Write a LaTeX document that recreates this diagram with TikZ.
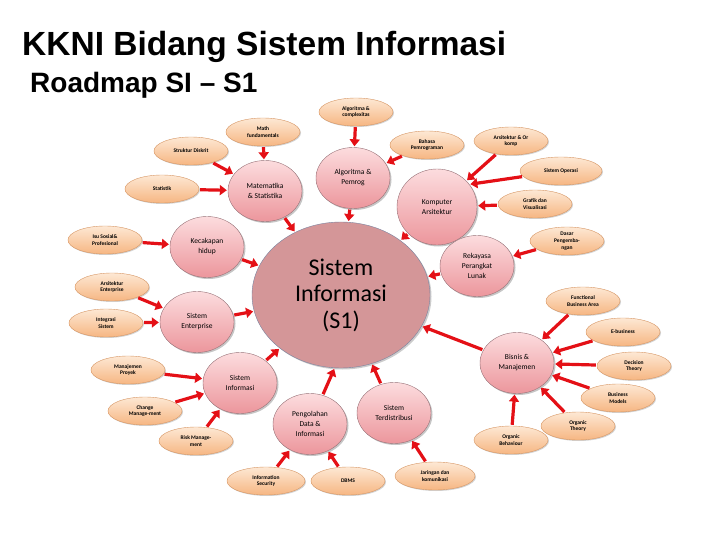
\documentclass[tikz,border=0pt]{standalone}
\usepackage{fontspec}
\setmainfont{Carlito}
\newfontfamily\headfont{Liberation Sans}
\usetikzlibrary{arrows.meta,shapes.geometric,shadows}
\definecolor{peachtop}{RGB}{253,232,212}
\definecolor{peachbot}{RGB}{246,182,130}
\definecolor{peachline}{RGB}{214,150,100}
\definecolor{pinktop}{RGB}{252,220,222}
\definecolor{pinkbot}{RGB}{236,150,156}
\definecolor{pinkline}{RGB}{150,112,118}
\definecolor{corefill}{RGB}{212,150,152}
\definecolor{coreline}{RGB}{122,132,160}
\definecolor{arrred}{RGB}{228,16,22}

\begin{document}
\begin{tikzpicture}[x=1pt, y=-1pt,
  topic/.style={ellipse, draw=peachline, top color=peachtop, bottom color=peachbot, minimum width=74pt, minimum height=28pt, inner sep=0pt, align=center, font=\fontsize{5.5}{6.8}\selectfont\bfseries, drop shadow={shadow xshift=1pt, shadow yshift=-1pt, opacity=.35}},
  area/.style={ellipse, draw=pinkline, top color=pinktop, bottom color=pinkbot, minimum width=74pt, minimum height=61pt, inner sep=0pt, align=center, font=\fontsize{7.5}{10}\selectfont, drop shadow={shadow xshift=1.5pt, shadow yshift=-1.5pt, opacity=.45}},
  arr/.style={-{Triangle[length=7pt,width=10pt]}, line width=3.2pt, draw=arrred, shorten <=1pt, shorten >=1pt}]
  \useasboundingbox (0,0) rectangle (720,540);
  % titles
  \node[anchor=base west, inner sep=0pt, font=\headfont\bfseries\fontsize{33.5}{38}\selectfont] (title) at (22,56) {KKNI Bidang Sistem Informasi};
  \node[anchor=base west, inner sep=0pt, font=\headfont\bfseries\fontsize{28}{32}\selectfont] (subtitle) at (30,93) {Roadmap SI – S1};
  % core
  \node[ellipse, draw=coreline, fill=corefill, minimum width=178pt, minimum height=146pt, inner sep=0pt, align=center, font=\fontsize{24}{26.5}\selectfont, drop shadow={shadow xshift=1.5pt, shadow yshift=-1.5pt, opacity=.4}] (main) at (341,295) {Sistem\\Informasi\\(S1)};
  % areas
  \node[area] (mat) at (265,191) {Matematika\\\& Statistika};
  \node[area] (alg) at (353,178) {Algoritma \&\\Pemrog};
  \node[area, minimum width=80pt, minimum height=76pt] (komp) at (437,207) {Komputer\\Arsitektur};
  \node[area] (kec) at (207,247) {Kecakapan\\hidup};
  \node[area] (rpl) at (477,266) {Rekayasa\\Perangkat\\Lunak};
  \node[area] (se) at (197,322) {Sistem\\Enterprise};
  \node[area] (si) at (240,383) {Sistem\\Informasi};
  \node[area] (bis) at (517,363) {Bisnis \&\\Manajemen};
  \node[area] (pdi) at (310,424) {Pengolahan\\Data \&\\Informasi};
  \node[area] (std) at (394,413) {Sistem\\Terdistribusi};
  % topics
  \node[topic] (ac) at (356,112) {Algoritma \&\\complexitas};
  \node[topic] (mf) at (263,132) {Math\\fundamentals};
  \node[topic] (sd) at (191,151) {Struktur Diskrit};
  \node[topic] (bp) at (427,145) {Bahasa\\Pemrograman};
  \node[topic] (aok) at (511,141) {Arsitektur \& Or\\komp};
  \node[topic, minimum width=82pt] (so) at (561,171) {Sistem Operasi};
  \node[topic] (gv) at (535,204) {Grafik dan\\Visualisasi};
  \node[topic] (dp) at (567,241) {Dasar\\Pengemba-\\ngan};
  \node[topic] (st) at (162,189) {Statistik};
  \node[topic] (iss) at (105,240) {Isu Sosial\&\\Profesional};
  \node[topic] (ae) at (112,287) {Arsitektur\\Enterprise};
  \node[topic] (is) at (106,323) {Integrasi\\Sistem};
  \node[topic] (fba) at (583,301) {Functional\\Business Area};
  \node[topic] (eb) at (623,332) {E-business};
  \node[topic] (mp) at (128,370) {Manajemen\\Proyek};
  \node[topic] (cm) at (145,411) {Change\\Manage-ment};
  \node[topic] (rm) at (196,441) {Risk Manage-\\ment};
  \node[topic] (dt) at (634,366) {Decision\\Theory};
  \node[topic] (bm) at (618,398) {Business\\Models};
  \node[topic] (ot) at (578,426) {Organic\\Theory};
  \node[topic] (ob) at (511,440) {Organic\\Behaviour};
  \node[topic, minimum width=78pt] (isec) at (266,481) {Information\\Security};
  \node[topic] (dbms) at (348,481) {DBMS};
  \node[topic, minimum width=80pt] (jk) at (435,476) {Jaringan dan\\komunikasi};
  % arrows
  \foreach \a/\b in {st/mat, sd/mat, mf/mat, ac/alg, bp/alg, aok/komp, gv/komp, iss/kec, dp/rpl,
    ae/se, is/se, mp/si, cm/si, rm/si, fba/bis, eb/bis, dt/bis, bm/bis, ot/bis, ob/bis,
    isec/pdi, dbms/pdi, jk/std}
    \draw[arr] (\a) -- (\b);
  \draw[arr] (so) -- (komp.35);
  \foreach \a in {mat, alg, komp, kec, rpl, se, si, bis, std}
    \draw[arr] (\a) -- (main);
  \draw[arr] (pdi) -- (main.265);
\end{tikzpicture}
\end{document}
